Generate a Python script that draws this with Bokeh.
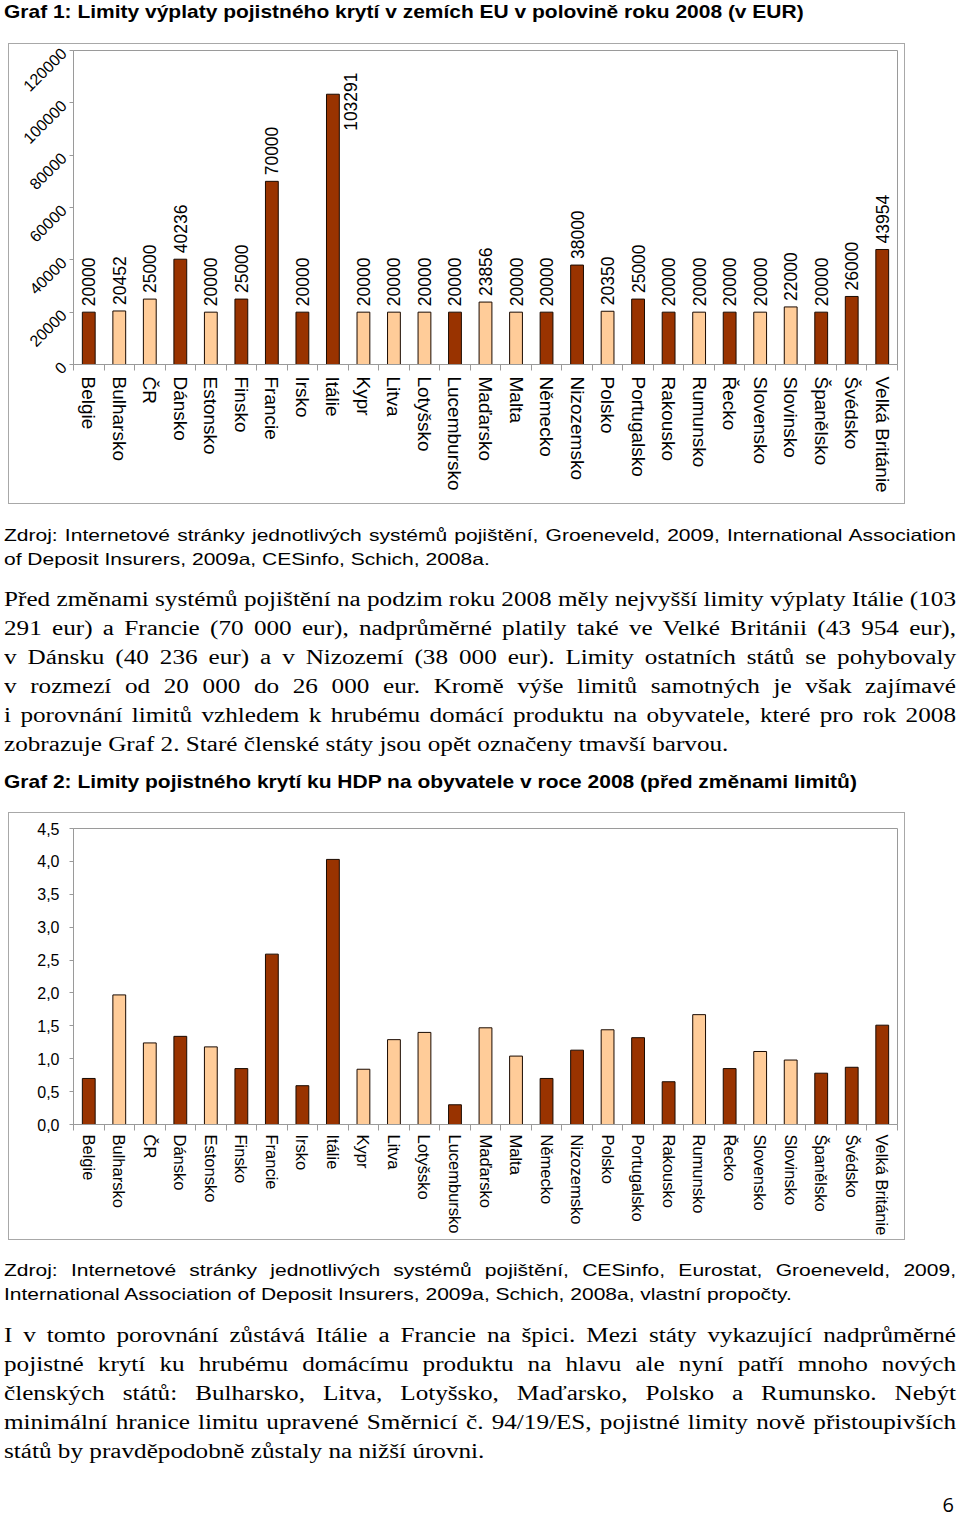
import math
from bokeh.plotting import figure
from bokeh.models import ColumnDataSource, FixedTicker, Div, Range1d, CustomJSTickFormatter
from bokeh.layouts import column
from bokeh.embed import file_html
from bokeh.resources import INLINE
from bokeh.core.properties import value

# ---------------- data ----------------
countries = ["Belgie", "Bulharsko", "ČR", "Dánsko", "Estonsko", "Finsko", "Francie", "Irsko",
             "Itálie", "Kypr", "Litva", "Lotyšsko", "Lucembursko", "Maďarsko", "Malta", "Německo",
             "Nizozemsko", "Polsko", "Portugalsko", "Rakousko", "Rumunsko", "Řecko", "Slovensko",
             "Slovinsko", "Španělsko", "Švédsko", "Velká Británie"]
old_member = [1, 0, 0, 1, 0, 1, 1, 1, 1, 0, 0, 0, 1, 0, 0, 1, 1, 0, 1, 1, 0, 1, 0, 0, 1, 1, 1]
limits_eur = [20000, 20452, 25000, 40236, 20000, 25000, 70000, 20000, 103291, 20000, 20000, 20000,
              20000, 23856, 20000, 20000, 38000, 20350, 25000, 20000, 20000, 20000, 20000, 22000,
              20000, 26000, 43954]
limit_to_gdp = [0.70, 1.97, 1.24, 1.34, 1.18, 0.85, 2.59, 0.59, 4.03, 0.84, 1.29, 1.40, 0.30, 1.47,
                1.04, 0.70, 1.13, 1.44, 1.32, 0.65, 1.67, 0.85, 1.11, 0.98, 0.78, 0.87, 1.51]
y1_ticks = [0, 20000, 40000, 60000, 80000, 100000, 120000]
y1_tick_labels = ["0", "20000", "40000", "60000", "80000", "100000", "120000"]
y2_ticks = [0.0, 0.5, 1.0, 1.5, 2.0, 2.5, 3.0, 3.5, 4.0, 4.5]

DARK = "#993300"
LIGHT = "#FFCC99"
GRAY = "#9a9a9a"
SANS = "Liberation Sans"
SERIF = "Liberation Serif"

n = len(countries)
xs = list(range(n))
colors = [DARK if o else LIGHT for o in old_member]
Y1MAX = y1_ticks[-1]
label_room = 33000
lab_y = [min(v, Y1MAX - label_room) for v in limits_eur]
lab_dx = [18 if v > Y1MAX - label_room else 0 for v in limits_eur]

src1 = ColumnDataSource(dict(x=xs, v=limits_eur, c=colors, ly=lab_y, dx=lab_dx,
                             t=[str(v) for v in limits_eur]))
src2 = ColumnDataSource(dict(x=xs, v=limit_to_gdp, c=colors))


def style_x_axis(p, size, standoff):
    ax = p.xaxis[0]
    ax.ticker = FixedTicker(ticks=xs, minor_ticks=[i - 0.5 for i in range(n + 1)])
    ax.major_label_overrides = {i: c for i, c in enumerate(countries)}
    ax.major_label_orientation = "vertical"
    ax.major_tick_line_color = None
    ax.major_tick_out = 0
    ax.major_tick_in = 0
    ax.minor_tick_line_color = GRAY
    ax.minor_tick_out = 6
    ax.minor_tick_in = 0
    ax.axis_line_color = GRAY
    ax.major_label_text_font = SANS
    ax.major_label_text_font_size = size
    ax.major_label_text_color = "black"
    ax.major_label_standoff = standoff


# ---------------- chart 1 ----------------
p1 = figure(width=897, height=461, x_range=Range1d(-0.5, n - 0.5), y_range=Range1d(0, Y1MAX),
            output_backend="svg", toolbar_location=None, margin=(0, 0, 0, 8),
            min_border_left=64, min_border_right=5, min_border_top=6, min_border_bottom=141)
p1.styles = {"border": "1px solid #a8a8a8", "box-sizing": "border-box"}
p1.xgrid.visible = False
p1.ygrid.visible = False
p1.outline_line_color = GRAY
p1.vbar(x="x", top="v", width=0.42, bottom=0, fill_color="c", line_color="#1a0a00",
        line_width=1, source=src1)
p1.text(x="x", y="ly", text="t", x_offset="dx", y_offset=-6, angle=math.pi / 2,
        text_align="left", text_baseline="middle", text_font=value(SANS),
        text_font_size="17.5px", text_color="black", source=src1)
style_x_axis(p1, "19px", 6)
ya = p1.yaxis[0]
ya.ticker = FixedTicker(ticks=y1_ticks, minor_ticks=[])
ya.major_label_overrides = {t: l for t, l in zip(y1_ticks, y1_tick_labels)}
ya.major_label_orientation = math.pi / 4
ya.axis_line_color = GRAY
ya.major_tick_line_color = GRAY
ya.major_tick_out = 4
ya.major_tick_in = 0
ya.minor_tick_line_color = None
ya.major_label_text_font = SANS
ya.major_label_text_font_size = "16px"
ya.major_label_text_color = "black"
ya.major_label_standoff = 6

# ---------------- chart 2 ----------------
p2 = figure(width=897, height=428, x_range=Range1d(-0.5, n - 0.5), y_range=Range1d(0, 4.5),
            output_backend="svg", toolbar_location=None, margin=(0, 0, 0, 8),
            min_border_left=53, min_border_right=9, min_border_top=15, min_border_bottom=117)
p2.styles = {"border": "1px solid #a8a8a8", "box-sizing": "border-box"}
p2.xgrid.visible = False
p2.ygrid.visible = False
p2.outline_line_color = GRAY
p2.vbar(x="x", top="v", width=0.42, bottom=0, fill_color="c", line_color="#1a0a00",
        line_width=1, source=src2)
style_x_axis(p2, "16.5px", 4)
yb = p2.yaxis[0]
yb.ticker = FixedTicker(ticks=y2_ticks, minor_ticks=[])
yb.formatter = CustomJSTickFormatter(code="return tick.toFixed(1).replace('.', ',');")
yb.axis_line_color = GRAY
yb.major_tick_line_color = GRAY
yb.major_tick_out = 4
yb.major_tick_in = 0
yb.minor_tick_line_color = None
yb.major_label_text_font = SANS
yb.major_label_text_font_size = "16px"
yb.major_label_text_color = "black"
yb.major_label_standoff = 10

# ---------------- text ----------------
title1 = "Graf 1: Limity výplaty pojistného krytí v zemích EU v polovině roku 2008 (v EUR)"
title2 = "Graf 2: Limity pojistného krytí ku HDP na obyvatele v roce 2008 (před změnami limitů)"
src_text1 = ["Zdroj: Internetové stránky jednotlivých systémů pojištění, Groeneveld, 2009, International Association",
             "of Deposit Insurers, 2009a, CESinfo, Schich, 2008a."]
para1 = ["Před změnami systémů pojištění na podzim roku 2008 měly nejvyšší limity výplaty Itálie (103",
         "291 eur) a Francie (70 000 eur), nadprůměrné platily také ve Velké Británii (43 954 eur),",
         "v Dánsku (40 236 eur) a v Nizozemí (38 000 eur). Limity ostatních států se pohybovaly",
         "v rozmezí od 20 000 do 26 000 eur. Kromě výše limitů samotných je však zajímavé",
         "i porovnání limitů vzhledem k hrubému domácí produktu na obyvatele, které pro rok 2008",
         "zobrazuje Graf 2. Staré členské státy jsou opět označeny tmavší barvou."]
src_text2 = ["Zdroj: Internetové stránky jednotlivých systémů pojištění, CESinfo, Eurostat, Groeneveld, 2009,",
             "International Association of Deposit Insurers, 2009a, Schich, 2008a, vlastní propočty."]
para2 = ["I v tomto porovnání zůstává Itálie a Francie na špici. Mezi státy vykazující nadprůměrné",
         "pojistné krytí ku hrubému domácímu produktu na hlavu ale nyní patří mnoho nových",
         "členských států: Bulharsko, Litva, Lotyšsko, Maďarsko, Polsko a Rumunsko. Nebýt",
         "minimální hranice limitu upravené Směrnicí č. 94/19/ES, pojistné limity nově přistoupivších",
         "států by pravděpodobně zůstaly na nižší úrovni."]
page_number = "6"

TW = 952  # text column width


def block(lines, font, size, lh, scale, weight="normal", justify=True, pad_top=0):
    inner_w = TW / scale
    rows = []
    for i, ln in enumerate(lines):
        last = i == len(lines) - 1
        if justify and not last:
            al = "text-align:justify;text-align-last:justify;"
        else:
            al = "text-align:left;white-space:nowrap;"
        rows.append(f'<div style="{al}font-family:\'{font}\';font-size:{size}px;line-height:{lh}px;'
                    f'font-weight:{weight};color:#000">{ln}</div>')
    return (f'<div style="width:{inner_w:.2f}px;margin-top:{pad_top}px;transform:scaleX({scale});'
            f'transform-origin:0 0">' + "".join(rows) + '</div>')


div_t1 = Div(width=TW, height=43, margin=(0, 0, 0, 4),
             text=block([title1], SANS, 19, 20, 1.104, weight="bold", justify=False, pad_top=2))
div_b = Div(width=TW, height=266, margin=(0, 0, 0, 4),
            text=block(src_text1, SANS, 16.5, 24, 1.273, pad_top=19)
            + block(para1, SERIF, 20, 29, 1.259, pad_top=13.5))
div_t2 = Div(width=TW, height=42, margin=(0, 0, 0, 4),
             text=block([title2], SANS, 19, 20, 1.104, weight="bold", justify=False, pad_top=2))
div_d = Div(width=TW, height=277, margin=(0, 0, 0, 4),
            text=block(src_text2, SANS, 16.5, 24, 1.273, pad_top=18)
            + block(para2, SERIF, 20, 29, 1.259, pad_top=14.5)
            + f'<div style="width:{TW - 2}px;margin-top:29.5px;text-align:right;font-family:\'Open Sans\';'
              f'font-size:20px;line-height:20px;color:#000">{page_number}</div>')

layout = column(div_t1, p1, div_b, div_t2, p2, div_d, spacing=0)

open("out.html", "w").write(file_html(layout, INLINE))
